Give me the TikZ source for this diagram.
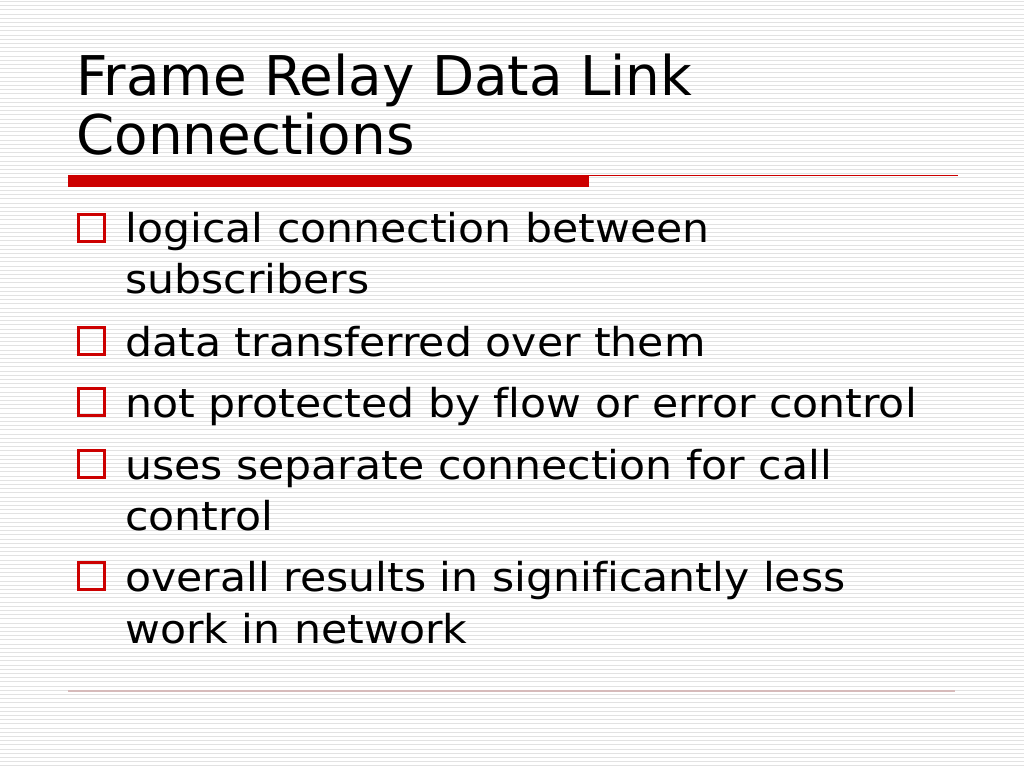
\documentclass[tikz,border=0pt]{standalone}
\usepackage{fontspec}
\setmainfont[Ligatures=NoCommon]{DejaVu Sans}
\newfontfamily\bodyfont[Ligatures=NoCommon,FakeStretch=1.07]{DejaVu Sans}
\definecolor{slidered}{RGB}{204,0,0}
\definecolor{stripegray}{RGB}{226,226,226}
\definecolor{footrule}{RGB}{214,186,186}

\begin{document}
\begin{tikzpicture}[x=0.703125pt,y=-0.703125pt]
    \tikzstyle{stripe}=[draw=stripegray,line width=0.6pt]
    \tikzstyle{title}=[anchor=base west,inner sep=0pt,font=\fontsize{38.5}{46}\selectfont]
    \tikzstyle{item}=[anchor=base west,inner sep=0pt,font=\bodyfont\fontsize{28}{34}\selectfont]
    \tikzstyle{bullet}=[rectangle,draw=slidered,line width=2.1pt,minimum size=18.3pt,inner sep=0pt]
    \useasboundingbox (0,0) rectangle (1024,768);
    \fill[white] (0,0) rectangle (1024,768);

    % background lines
    \foreach \i in {0,...,182}
        \draw[stripe] (0,\i*4.2+1.5) -- (1024,\i*4.2+1.5);

    % title and rules
    \node[title] (T-1) at (76,96) {Frame Relay Data Link};
    \node[title] (T-2) at (76,155) {Connections};
    \fill[slidered] (68,175) rectangle (589,187);
    \draw[slidered,line width=0.8pt] (589,175.5) -- (958,175.5);
    \draw[footrule,line width=0.8pt] (68,691) -- (955,691);

    % bullets
    \foreach \num/\y in {1/243, 2/356, 3/417, 4/479, 5/591}
        \node[bullet] (B-\num) at (91.8,\y-15) {};

    \foreach \num/\y/\txt in {1/243/logical connection between, 2/293/subscribers,
            3/356/data transferred over them, 4/417/not protected by flow or error control,
            5/479/uses separate connection for call, 6/530/control,
            7/591/overall results in significantly less, 8/643/work in network}
        \node[item] (L-\num) at (125,\y) {\txt};
\end{tikzpicture}
\end{document}
